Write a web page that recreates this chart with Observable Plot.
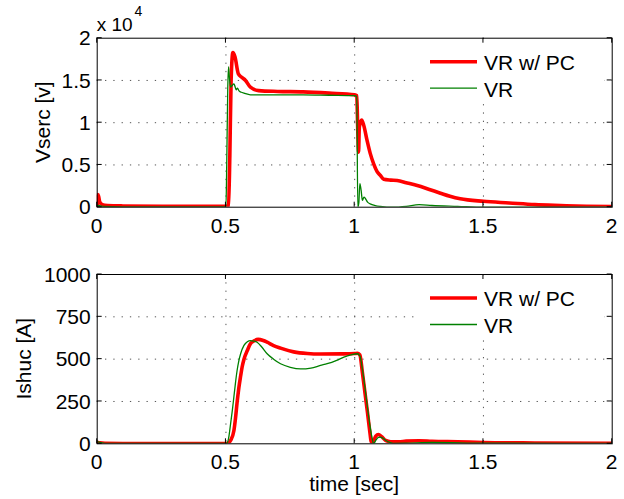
<!DOCTYPE html>
<html><head><meta charset="utf-8">
<script src="https://cdn.jsdelivr.net/npm/d3@7"></script>
<script src="https://cdn.jsdelivr.net/npm/@observablehq/plot@0.6"></script>
<style>
body{margin:0;background:#fff;}
#chart{position:relative;width:624px;height:499px;background:#fff;}
#chart svg{display:block;}
</style></head><body><div id="chart"></div>
<script>
const FONT = "'Liberation Sans', Arial, Helvetica, sans-serif";
const RED = "#ff0000", GREEN = "#008000";
const seriesNames = ["VR w/ PC", "VR"];

// x ticks (time, sec)
const xTicks = [0, 0.5, 1, 1.5, 2];
const xTickLabels = ["0", "0.5", "1", "1.5", "2"];
const xGrid = [0.5, 1, 1.5];

// Top panel: Vserc [v]
const vTicks = [0, 5000, 10000, 15000, 20000];
const vTickLabels = ["0", "0.5", "1", "1.5", "2"];
const vGrid = [5000, 10000, 15000];
const tVPC = [0,0.003,0.006,0.01,0.02,0.04,0.1,0.3,0.5,0.51,0.515,0.52,0.527,0.535,0.548,0.56,0.576,0.595,0.627,0.7,0.8,0.9,1.0,1.008,1.012,1.015,1.018,1.027,1.035,1.048,1.06,1.074,1.087,1.1,1.113,1.14,1.165,1.2,1.243,1.29,1.333,1.37,1.41,1.5,1.6,1.7,1.8,1.9,2.0];
const vPC  = [200,1500,1200,600,300,200,150,100,100,200,6000,15000,18300,17800,15800,15400,15000,14200,13800,13700,13650,13500,13300,13200,9000,6500,9500,10300,9700,7900,6400,5100,4200,3750,3300,3200,3150,2900,2570,2100,1660,1300,1000,700,500,300,200,120,80];
const tVVR = [0,0.005,0.02,0.1,0.3,0.5,0.503,0.507,0.51,0.513,0.518,0.524,0.531,0.536,0.54,0.545,0.55,0.56,0.57,0.595,0.7,0.8,0.9,1.0,1.008,1.012,1.016,1.02,1.025,1.03,1.036,1.042,1.05,1.06,1.08,1.1,1.15,1.2,1.25,1.3,1.4,1.5,2.0];
const vVR  = [100,200,100,50,50,50,5000,14000,16600,15500,14200,14400,14600,14200,13900,14100,13800,13600,13500,13300,13300,13300,13250,13200,13100,0,500,2800,2000,800,1200,1000,600,400,200,100,0,100,300,200,100,0,0];

// Bottom panel: Ishuc [A]
const iTicks = [0, 250, 500, 750, 1000];
const iTickLabels = ["0", "250", "500", "750", "1000"];
const iGrid = [250, 500, 750];
const tIPC = [0,0.01,0.03,0.1,0.5,0.51,0.518,0.531,0.537,0.543,0.55,0.557,0.563,0.57,0.583,0.595,0.608,0.625,0.645,0.66,0.685,0.712,0.763,0.816,0.867,0.95,1.0,1.01,1.02,1.03,1.04,1.05,1.058,1.065,1.072,1.082,1.092,1.105,1.12,1.14,1.17,1.2,1.25,1.3,1.4,1.5,1.7,2.0];
const iPC  = [10,6,3,2,2,5,20,79,150,240,330,400,455,500,551,591,607,617,610,600,580,565,543,533,530,531,533,535,525,420,300,180,80,10,15,45,55,42,20,12,12,16,18,15,12,8,5,3];
const tIVR = [0,0.01,0.03,0.1,0.5,0.505,0.51,0.518,0.525,0.531,0.537,0.543,0.55,0.557,0.57,0.583,0.595,0.608,0.621,0.64,0.66,0.685,0.712,0.75,0.79,0.83,0.867,0.893,0.93,0.958,0.985,1.01,1.02,1.03,1.04,1.05,1.06,1.068,1.073,1.082,1.092,1.1,1.11,1.13,1.15,1.2,1.3,1.5,2.0];
const iVR  = [15,8,3,2,2,5,30,118,200,280,360,430,490,532,581,603,610,607,600,570,532,500,473,452,442,447,463,473,493,512,525,532,520,440,330,210,100,30,0,20,38,40,32,12,3,4,8,4,2];

const zip = (ts, vs) => ts.map((t, i) => ({t, v: vs[i]}));

function panel({height, mt, mb, yDomain, yTicks, yLabels, yGrid, red, green, ylabel, ylabelX, exponent, xlabel}) {
  const chart = Plot.plot({
    width: 624, height,
    marginLeft: 96.7, marginRight: 12.3, marginTop: mt, marginBottom: mb,
    style: {fontFamily: FONT, fontSize: "21px", color: "black", background: "white", overflow: "visible"},
    x: {domain: [0, 2], axis: null},
    y: {domain: yDomain, axis: null},
    marks: [
      Plot.gridX(xGrid, {stroke: "#555", strokeOpacity: 1, strokeWidth: 1, strokeDasharray: "1.3,7"}),
      Plot.gridY(yGrid, {stroke: "#555", strokeOpacity: 1, strokeWidth: 1, strokeDasharray: "1.3,7"}),
      Plot.line(red, {x: "t", y: "v", stroke: RED, strokeWidth: 3.6, curve: "monotone-x", clip: true}),
      Plot.line(green, {x: "t", y: "v", stroke: GREEN, strokeWidth: 1.3, curve: "monotone-x", clip: true}),
      Plot.frame({stroke: "black", strokeWidth: 1})
    ]
  });
  const svg = d3.select(chart);
  const x = chart.scale("x"), y = chart.scale("y");
  const [x0, x1] = x.range, [yb, yt] = y.range;
  // inward ticks on all four sides
  const g = svg.append("g").attr("stroke", "black").attr("stroke-width", 1);
  for (const t of xTicks) {
    const px = x.apply(t);
    g.append("line").attr("x1", px).attr("x2", px).attr("y1", yb).attr("y2", yb - 5);
    g.append("line").attr("x1", px).attr("x2", px).attr("y1", yt).attr("y2", yt + 5);
  }
  for (const v of yTicks) {
    const py = y.apply(v);
    g.append("line").attr("x1", x0).attr("x2", x0 + 5).attr("y1", py).attr("y2", py);
    g.append("line").attr("x1", x1).attr("x2", x1 - 5).attr("y1", py).attr("y2", py);
  }
  // tick labels
  const tl = svg.append("g").attr("font-family", FONT).attr("font-size", 21).attr("fill", "black");
  xTicks.forEach((t, i) => tl.append("text").attr("x", x.apply(t)).attr("y", yb + 26)
    .attr("text-anchor", "middle").text(xTickLabels[i]));
  yTicks.forEach((v, i) => tl.append("text").attr("x", x0 - 6).attr("y", y.apply(v)).attr("dy", "0.36em")
    .attr("text-anchor", "end").text(yLabels[i]));
  // legend
  const lg = svg.append("g").attr("font-family", FONT).attr("font-size", 21).attr("text-anchor", "start");
  lg.append("rect").attr("x", 416).attr("y", yt + 6).attr("width", 188).attr("height", 58).attr("fill", "white");
  lg.append("line").attr("x1", 430).attr("x2", 477).attr("y1", yt + 24).attr("y2", yt + 24).attr("stroke", RED).attr("stroke-width", 3.6);
  lg.append("line").attr("x1", 430).attr("x2", 477).attr("y1", yt + 50.5).attr("y2", yt + 50.5).attr("stroke", GREEN).attr("stroke-width", 1.3);
  lg.append("text").attr("x", 484).attr("y", yt + 32.3).text(seriesNames[0]);
  lg.append("text").attr("x", 484).attr("y", yt + 59).text(seriesNames[1]);
  // y label
  svg.append("text").attr("transform", `translate(${ylabelX},${(yb + yt) / 2}) rotate(-90)`)
    .attr("text-anchor", "middle").attr("dy", "0.35em").attr("font-family", FONT).attr("font-size", 21).text(ylabel);
  if (exponent) {
    const e = svg.append("text").attr("x", x0).attr("y", 31).attr("text-anchor", "start")
      .attr("font-family", FONT).attr("font-size", 19);
    e.append("tspan").text("x 10");
    e.append("tspan").attr("font-size", 14).attr("dx", 2).attr("dy", -15).text("4");
  }
  if (xlabel) {
    svg.append("text").attr("x", (x0 + x1) / 2).attr("y", 241).attr("text-anchor", "middle")
      .attr("font-family", FONT).attr("font-size", 21).text(xlabel);
  }
  return chart;
}

const root = document.getElementById("chart");
root.append(panel({
  height: 250, mt: 37.7, mb: 43.3, yDomain: [0, 20000], yTicks: vTicks, yLabels: vTickLabels, yGrid: vGrid,
  red: zip(tVPC, vPC), green: zip(tVVR, vVR),
  ylabel: "Vserc [v]", ylabelX: 43, exponent: true
}));
root.append(panel({
  height: 249, mt: 24, mb: 55.7, yDomain: [0, 1000], yTicks: iTicks, yLabels: iTickLabels, yGrid: iGrid,
  red: zip(tIPC, iPC), green: zip(tIVR, iVR),
  ylabel: "Ishuc [A]", ylabelX: 24, xlabel: "time [sec]"
}));
</script></body></html>
